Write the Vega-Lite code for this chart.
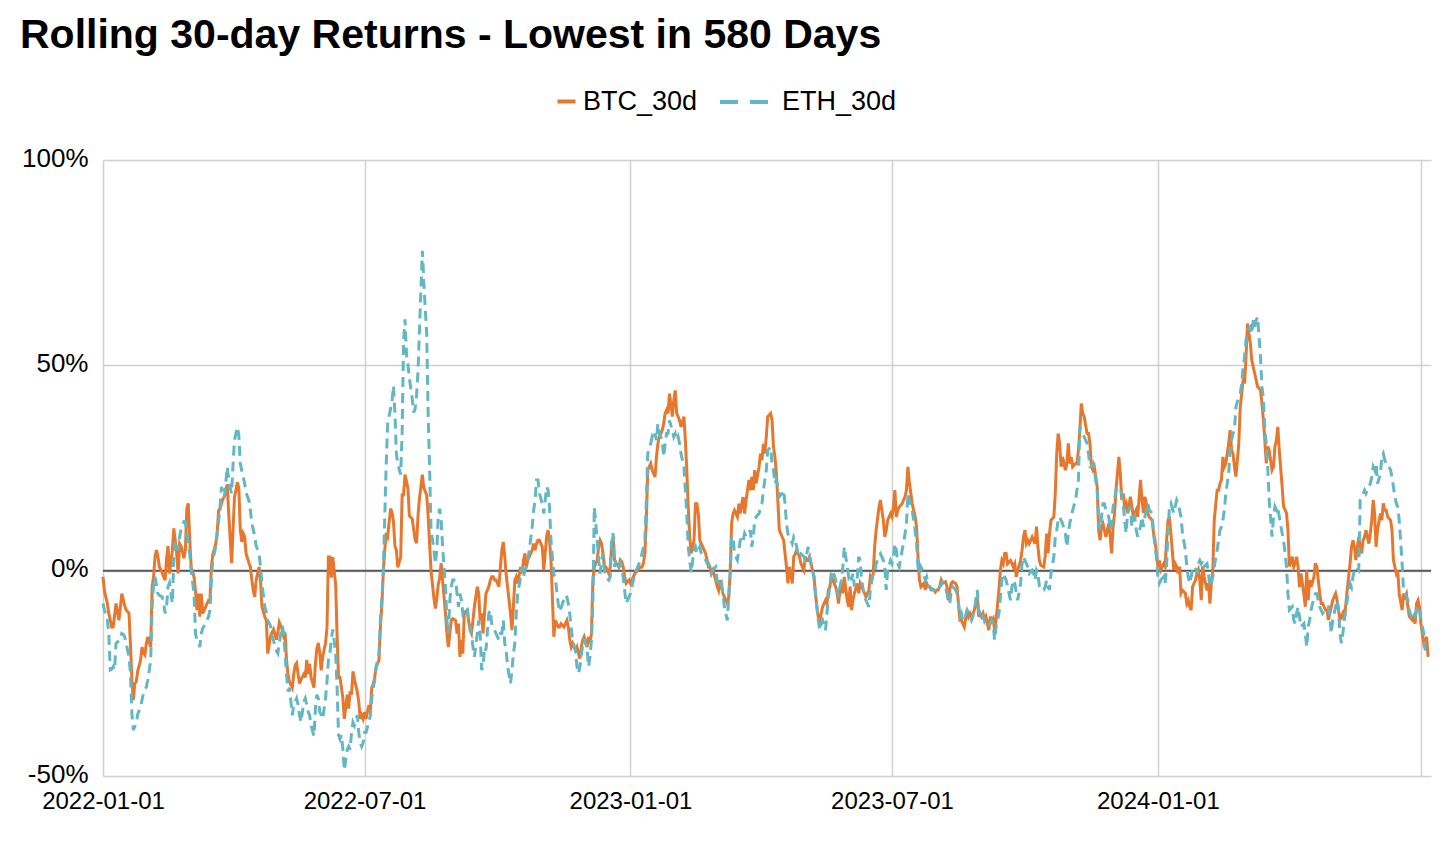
{
"$schema":"https://vega.github.io/schema/vega-lite/v6.json",
"width":1328,"height":616,
"autosize":{"type":"none"},
"padding":{"left":103,"top":160,"right":25,"bottom":65},
"background":"white",
"config":{"view":{"stroke":null},"font":"Liberation Sans"},
"title":{"text":"Rolling 30-day Returns - Lowest in 580 Days","anchor":"start","frame":"group","dx":-83,"dy":-18,"offset":0,"fontSize":41,"font":"Liberation Sans","fontWeight":"bold","color":"#000000"},
"data":{"format":{"parse":{"date":"date:'%Y-%j'"}},"values":[
{"date":"2022-001","BTC_30d":-1.5,"ETH_30d":-8},
{"date":"2022-002","BTC_30d":-5,"ETH_30d":-9.6},
{"date":"2022-004","BTC_30d":-8,"ETH_30d":-12},
{"date":"2022-005","BTC_30d":-10.4,"ETH_30d":-15.3},
{"date":"2022-006","BTC_30d":-12,"ETH_30d":-24.2},
{"date":"2022-007","BTC_30d":-13.7,"ETH_30d":-24},
{"date":"2022-008","BTC_30d":-13.7,"ETH_30d":-23.4},
{"date":"2022-009","BTC_30d":-11,"ETH_30d":-24.2},
{"date":"2022-010","BTC_30d":-8,"ETH_30d":-17.7},
{"date":"2022-012","BTC_30d":-12.1,"ETH_30d":-17},
{"date":"2022-013","BTC_30d":-9,"ETH_30d":-16.9},
{"date":"2022-014","BTC_30d":-5.6,"ETH_30d":-15.3},
{"date":"2022-015","BTC_30d":-7,"ETH_30d":-15.5},
{"date":"2022-016","BTC_30d":-8.5,"ETH_30d":-16.1},
{"date":"2022-017","BTC_30d":-9.6,"ETH_30d":-17.7},
{"date":"2022-019","BTC_30d":-10.4,"ETH_30d":-21},
{"date":"2022-020","BTC_30d":-18,"ETH_30d":-25},
{"date":"2022-021","BTC_30d":-26.7,"ETH_30d":-34.8},
{"date":"2022-022","BTC_30d":-31.5,"ETH_30d":-38.8},
{"date":"2022-023","BTC_30d":-27.5,"ETH_30d":-38},
{"date":"2022-024","BTC_30d":-27.1,"ETH_30d":-37.2},
{"date":"2022-025","BTC_30d":-24.5,"ETH_30d":-35},
{"date":"2022-027","BTC_30d":-21.8,"ETH_30d":-33.1},
{"date":"2022-028","BTC_30d":-18.6,"ETH_30d":-31.5},
{"date":"2022-029","BTC_30d":-20,"ETH_30d":-29.9},
{"date":"2022-030","BTC_30d":-20.5,"ETH_30d":-29},
{"date":"2022-031","BTC_30d":-17.7,"ETH_30d":-28.3},
{"date":"2022-032","BTC_30d":-16.1,"ETH_30d":-26.7},
{"date":"2022-034","BTC_30d":-18.6,"ETH_30d":-21.8},
{"date":"2022-035","BTC_30d":-3.9,"ETH_30d":-8.8},
{"date":"2022-036","BTC_30d":-1.5,"ETH_30d":-3.1},
{"date":"2022-037","BTC_30d":3.4,"ETH_30d":-1.5},
{"date":"2022-038","BTC_30d":5,"ETH_30d":-3.5},
{"date":"2022-039","BTC_30d":3.5,"ETH_30d":-5.6},
{"date":"2022-040","BTC_30d":0.9,"ETH_30d":-6},
{"date":"2022-042","BTC_30d":-0.5,"ETH_30d":-6.4},
{"date":"2022-043","BTC_30d":-1.5,"ETH_30d":-8},
{"date":"2022-044","BTC_30d":-2.3,"ETH_30d":-10.4},
{"date":"2022-045","BTC_30d":3,"ETH_30d":-8.8},
{"date":"2022-046","BTC_30d":6,"ETH_30d":-3.9},
{"date":"2022-047","BTC_30d":-0.7,"ETH_30d":-3},
{"date":"2022-049","BTC_30d":5,"ETH_30d":-8},
{"date":"2022-050","BTC_30d":10.3,"ETH_30d":3.4},
{"date":"2022-051","BTC_30d":7.4,"ETH_30d":7.4},
{"date":"2022-052","BTC_30d":4.2,"ETH_30d":6},
{"date":"2022-053","BTC_30d":-0.7,"ETH_30d":5},
{"date":"2022-054","BTC_30d":6.6,"ETH_30d":8.3},
{"date":"2022-055","BTC_30d":6,"ETH_30d":10},
{"date":"2022-057","BTC_30d":3,"ETH_30d":12},
{"date":"2022-058","BTC_30d":5,"ETH_30d":12},
{"date":"2022-059","BTC_30d":15,"ETH_30d":9.1},
{"date":"2022-060","BTC_30d":16.4,"ETH_30d":6.5},
{"date":"2022-061","BTC_30d":8,"ETH_30d":4.2},
{"date":"2022-062","BTC_30d":0.9,"ETH_30d":0.1},
{"date":"2022-064","BTC_30d":-1.5,"ETH_30d":-5.6},
{"date":"2022-065","BTC_30d":-5,"ETH_30d":-15.3},
{"date":"2022-066","BTC_30d":-9.6,"ETH_30d":-16.9},
{"date":"2022-067","BTC_30d":-5.6,"ETH_30d":-17.5},
{"date":"2022-068","BTC_30d":-11.2,"ETH_30d":-18.6},
{"date":"2022-069","BTC_30d":-5.6,"ETH_30d":-15.3},
{"date":"2022-070","BTC_30d":-10.4,"ETH_30d":-14},
{"date":"2022-072","BTC_30d":-8.8,"ETH_30d":-12.9},
{"date":"2022-073","BTC_30d":-8,"ETH_30d":-12},
{"date":"2022-074","BTC_30d":-7.2,"ETH_30d":-11.2},
{"date":"2022-075","BTC_30d":-7.2,"ETH_30d":-9.6},
{"date":"2022-076","BTC_30d":0.9,"ETH_30d":-2.3},
{"date":"2022-077","BTC_30d":4,"ETH_30d":2.6},
{"date":"2022-079","BTC_30d":6.5,"ETH_30d":5.8},
{"date":"2022-080","BTC_30d":9.1,"ETH_30d":9.1},
{"date":"2022-081","BTC_30d":14.7,"ETH_30d":12},
{"date":"2022-082","BTC_30d":15,"ETH_30d":15.5},
{"date":"2022-083","BTC_30d":16.5,"ETH_30d":20.4},
{"date":"2022-084","BTC_30d":17.5,"ETH_30d":19},
{"date":"2022-085","BTC_30d":18,"ETH_30d":17.9},
{"date":"2022-087","BTC_30d":21,"ETH_30d":25.3},
{"date":"2022-088","BTC_30d":13.9,"ETH_30d":22.1},
{"date":"2022-089","BTC_30d":8,"ETH_30d":20},
{"date":"2022-090","BTC_30d":1.8,"ETH_30d":18.8},
{"date":"2022-091","BTC_30d":9.9,"ETH_30d":26.1},
{"date":"2022-092","BTC_30d":17.9,"ETH_30d":31.8},
{"date":"2022-094","BTC_30d":21.5,"ETH_30d":35},
{"date":"2022-095","BTC_30d":20,"ETH_30d":33},
{"date":"2022-096","BTC_30d":10,"ETH_30d":26.1},
{"date":"2022-097","BTC_30d":7,"ETH_30d":24.5},
{"date":"2022-098","BTC_30d":9.1,"ETH_30d":23},
{"date":"2022-099","BTC_30d":8.3,"ETH_30d":21.2},
{"date":"2022-100","BTC_30d":4.2,"ETH_30d":19},
{"date":"2022-102","BTC_30d":1.8,"ETH_30d":17.1},
{"date":"2022-103","BTC_30d":0.9,"ETH_30d":14.7},
{"date":"2022-104","BTC_30d":-2.3,"ETH_30d":11.5},
{"date":"2022-105","BTC_30d":-4.8,"ETH_30d":10},
{"date":"2022-106","BTC_30d":-6.4,"ETH_30d":8.3},
{"date":"2022-107","BTC_30d":-2.3,"ETH_30d":6},
{"date":"2022-109","BTC_30d":0.9,"ETH_30d":4.2},
{"date":"2022-110","BTC_30d":-2.3,"ETH_30d":0.9},
{"date":"2022-111","BTC_30d":-8.8,"ETH_30d":-3.1},
{"date":"2022-112","BTC_30d":-10,"ETH_30d":-6},
{"date":"2022-113","BTC_30d":-11.3,"ETH_30d":-8.8},
{"date":"2022-114","BTC_30d":-12.1,"ETH_30d":-10},
{"date":"2022-115","BTC_30d":-20.2,"ETH_30d":-12.1},
{"date":"2022-117","BTC_30d":-15.9,"ETH_30d":-13.5},
{"date":"2022-118","BTC_30d":-15,"ETH_30d":-15.9},
{"date":"2022-119","BTC_30d":-14.3,"ETH_30d":-17},
{"date":"2022-120","BTC_30d":-15.5,"ETH_30d":-18.5},
{"date":"2022-121","BTC_30d":-16.8,"ETH_30d":-19.5},
{"date":"2022-122","BTC_30d":-15.1,"ETH_30d":-20.1},
{"date":"2022-123","BTC_30d":-12.6,"ETH_30d":-17.6},
{"date":"2022-125","BTC_30d":-14.3,"ETH_30d":-13.4},
{"date":"2022-126","BTC_30d":-15.9,"ETH_30d":-15.1},
{"date":"2022-127","BTC_30d":-15.1,"ETH_30d":-20.1},
{"date":"2022-128","BTC_30d":-21.8,"ETH_30d":-25.2},
{"date":"2022-129","BTC_30d":-25.2,"ETH_30d":-29.4},
{"date":"2022-130","BTC_30d":-27,"ETH_30d":-28.5},
{"date":"2022-132","BTC_30d":-28.5,"ETH_30d":-35.2},
{"date":"2022-133","BTC_30d":-25.2,"ETH_30d":-32.7},
{"date":"2022-134","BTC_30d":-23,"ETH_30d":-31.9},
{"date":"2022-135","BTC_30d":-22.5,"ETH_30d":-31.1},
{"date":"2022-136","BTC_30d":-25.2,"ETH_30d":-32.7},
{"date":"2022-137","BTC_30d":-27.5,"ETH_30d":-35.2},
{"date":"2022-138","BTC_30d":-26.5,"ETH_30d":-36.9},
{"date":"2022-140","BTC_30d":-25.2,"ETH_30d":-31.9},
{"date":"2022-141","BTC_30d":-26,"ETH_30d":-31.1},
{"date":"2022-142","BTC_30d":-21.8,"ETH_30d":-32.7},
{"date":"2022-143","BTC_30d":-25.2,"ETH_30d":-34.4},
{"date":"2022-144","BTC_30d":-22.7,"ETH_30d":-35.2},
{"date":"2022-145","BTC_30d":-26,"ETH_30d":-37.7},
{"date":"2022-147","BTC_30d":-28.5,"ETH_30d":-40.3},
{"date":"2022-148","BTC_30d":-22.7,"ETH_30d":-33.6},
{"date":"2022-149","BTC_30d":-19,"ETH_30d":-30.2},
{"date":"2022-150","BTC_30d":-17.6,"ETH_30d":-31.1},
{"date":"2022-151","BTC_30d":-20,"ETH_30d":-34.4},
{"date":"2022-152","BTC_30d":-24.3,"ETH_30d":-35.2},
{"date":"2022-153","BTC_30d":-21,"ETH_30d":-36.1},
{"date":"2022-155","BTC_30d":-17.6,"ETH_30d":-31.1},
{"date":"2022-156","BTC_30d":-14,"ETH_30d":-26.9},
{"date":"2022-157","BTC_30d":3.3,"ETH_30d":-21.8},
{"date":"2022-158","BTC_30d":3.3,"ETH_30d":-20.1},
{"date":"2022-159","BTC_30d":-1.7,"ETH_30d":-16.8},
{"date":"2022-160","BTC_30d":3.3,"ETH_30d":-14.3},
{"date":"2022-162","BTC_30d":-3.4,"ETH_30d":-20.1},
{"date":"2022-163","BTC_30d":-15.9,"ETH_30d":-28.5},
{"date":"2022-164","BTC_30d":-26,"ETH_30d":-40},
{"date":"2022-165","BTC_30d":-26,"ETH_30d":-41},
{"date":"2022-166","BTC_30d":-28.5,"ETH_30d":-40},
{"date":"2022-167","BTC_30d":-31.1,"ETH_30d":-43.6},
{"date":"2022-168","BTC_30d":-36.1,"ETH_30d":-48.6},
{"date":"2022-170","BTC_30d":-30.2,"ETH_30d":-43.6},
{"date":"2022-171","BTC_30d":-33.6,"ETH_30d":-42.8},
{"date":"2022-172","BTC_30d":-29.4,"ETH_30d":-43.6},
{"date":"2022-173","BTC_30d":-30.2,"ETH_30d":-39.4},
{"date":"2022-174","BTC_30d":-24.5,"ETH_30d":-36.9},
{"date":"2022-175","BTC_30d":-26.5,"ETH_30d":-37.7},
{"date":"2022-177","BTC_30d":-29.5,"ETH_30d":-35.2},
{"date":"2022-178","BTC_30d":-31.9,"ETH_30d":-39.4},
{"date":"2022-179","BTC_30d":-36.1,"ETH_30d":-41.9},
{"date":"2022-180","BTC_30d":-35.2,"ETH_30d":-42.8},
{"date":"2022-181","BTC_30d":-36.1,"ETH_30d":-41.9},
{"date":"2022-182","BTC_30d":-34.4,"ETH_30d":-39.4},
{"date":"2022-183","BTC_30d":-36.1,"ETH_30d":-39.4},
{"date":"2022-185","BTC_30d":-32.7,"ETH_30d":-36.9},
{"date":"2022-186","BTC_30d":-34.4,"ETH_30d":-35.2},
{"date":"2022-187","BTC_30d":-28.5,"ETH_30d":-31.1},
{"date":"2022-188","BTC_30d":-27.7,"ETH_30d":-28.5},
{"date":"2022-189","BTC_30d":-26,"ETH_30d":-26.9},
{"date":"2022-190","BTC_30d":-23.5,"ETH_30d":-23.5},
{"date":"2022-192","BTC_30d":-21.8,"ETH_30d":-20.1},
{"date":"2022-193","BTC_30d":-13.4,"ETH_30d":-11.8},
{"date":"2022-194","BTC_30d":-8.4,"ETH_30d":-6.7},
{"date":"2022-195","BTC_30d":0,"ETH_30d":0},
{"date":"2022-196","BTC_30d":5,"ETH_30d":13.4},
{"date":"2022-197","BTC_30d":9.2,"ETH_30d":26},
{"date":"2022-198","BTC_30d":8.4,"ETH_30d":36},
{"date":"2022-200","BTC_30d":15.1,"ETH_30d":39.4},
{"date":"2022-201","BTC_30d":14.2,"ETH_30d":41.1},
{"date":"2022-202","BTC_30d":12,"ETH_30d":45},
{"date":"2022-203","BTC_30d":6,"ETH_30d":38.5},
{"date":"2022-204","BTC_30d":5,"ETH_30d":28.5},
{"date":"2022-205","BTC_30d":0.8,"ETH_30d":26},
{"date":"2022-207","BTC_30d":3.3,"ETH_30d":23.4},
{"date":"2022-208","BTC_30d":18.4,"ETH_30d":33.5},
{"date":"2022-209","BTC_30d":18.4,"ETH_30d":56},
{"date":"2022-210","BTC_30d":23.4,"ETH_30d":61.2},
{"date":"2022-211","BTC_30d":21.8,"ETH_30d":52.8},
{"date":"2022-212","BTC_30d":20.1,"ETH_30d":50.3},
{"date":"2022-213","BTC_30d":13.4,"ETH_30d":46.9},
{"date":"2022-215","BTC_30d":12.6,"ETH_30d":41.9},
{"date":"2022-216","BTC_30d":10,"ETH_30d":38.5},
{"date":"2022-217","BTC_30d":7.5,"ETH_30d":39.4},
{"date":"2022-218","BTC_30d":6.7,"ETH_30d":42.7},
{"date":"2022-219","BTC_30d":13.4,"ETH_30d":48.6},
{"date":"2022-220","BTC_30d":17.6,"ETH_30d":58.7},
{"date":"2022-222","BTC_30d":23.4,"ETH_30d":77.9},
{"date":"2022-223","BTC_30d":20.1,"ETH_30d":70.4},
{"date":"2022-224","BTC_30d":19.3,"ETH_30d":63.7},
{"date":"2022-225","BTC_30d":18.4,"ETH_30d":57.8},
{"date":"2022-226","BTC_30d":13.4,"ETH_30d":38.5},
{"date":"2022-227","BTC_30d":6.7,"ETH_30d":25},
{"date":"2022-228","BTC_30d":0,"ETH_30d":10},
{"date":"2022-230","BTC_30d":-6.7,"ETH_30d":5},
{"date":"2022-231","BTC_30d":-9.2,"ETH_30d":1.7},
{"date":"2022-232","BTC_30d":-6.7,"ETH_30d":5},
{"date":"2022-233","BTC_30d":-3.4,"ETH_30d":13.4},
{"date":"2022-234","BTC_30d":-1.7,"ETH_30d":15.1},
{"date":"2022-235","BTC_30d":1.8,"ETH_30d":12.3},
{"date":"2022-236","BTC_30d":-2.3,"ETH_30d":5.8},
{"date":"2022-238","BTC_30d":-10.4,"ETH_30d":-3.9},
{"date":"2022-239","BTC_30d":-15.3,"ETH_30d":-12.1},
{"date":"2022-240","BTC_30d":-18.6,"ETH_30d":-15.3},
{"date":"2022-241","BTC_30d":-15.3,"ETH_30d":-7.2},
{"date":"2022-242","BTC_30d":-12.1,"ETH_30d":-3.9},
{"date":"2022-243","BTC_30d":-11.7,"ETH_30d":-2.3},
{"date":"2022-245","BTC_30d":-12.1,"ETH_30d":-2.3},
{"date":"2022-246","BTC_30d":-15.3,"ETH_30d":-5.6},
{"date":"2022-247","BTC_30d":-12.9,"ETH_30d":-8.8},
{"date":"2022-248","BTC_30d":-21,"ETH_30d":-5.6},
{"date":"2022-249","BTC_30d":-16.9,"ETH_30d":-7.2},
{"date":"2022-250","BTC_30d":-20.2,"ETH_30d":-10.4},
{"date":"2022-251","BTC_30d":-10.4,"ETH_30d":-9.6},
{"date":"2022-253","BTC_30d":-9.6,"ETH_30d":-8.8},
{"date":"2022-254","BTC_30d":-12.1,"ETH_30d":-12.1},
{"date":"2022-255","BTC_30d":-14.5,"ETH_30d":-13.7},
{"date":"2022-256","BTC_30d":-15.3,"ETH_30d":-15.3},
{"date":"2022-257","BTC_30d":-12.1,"ETH_30d":-18.6},
{"date":"2022-258","BTC_30d":-8.8,"ETH_30d":-21},
{"date":"2022-260","BTC_30d":-3.9,"ETH_30d":-15.3},
{"date":"2022-261","BTC_30d":-5.6,"ETH_30d":-12.1},
{"date":"2022-262","BTC_30d":-12.1,"ETH_30d":-15.3},
{"date":"2022-263","BTC_30d":-10.4,"ETH_30d":-24.2},
{"date":"2022-264","BTC_30d":-15.3,"ETH_30d":-23.4},
{"date":"2022-265","BTC_30d":-10.4,"ETH_30d":-18.6},
{"date":"2022-266","BTC_30d":-5.6,"ETH_30d":-19.4},
{"date":"2022-268","BTC_30d":-3.9,"ETH_30d":-10.4},
{"date":"2022-269","BTC_30d":-2.3,"ETH_30d":-9.6},
{"date":"2022-270","BTC_30d":-1.5,"ETH_30d":-12.9},
{"date":"2022-271","BTC_30d":-1.5,"ETH_30d":-13.7},
{"date":"2022-272","BTC_30d":-2.3,"ETH_30d":-14.5},
{"date":"2022-273","BTC_30d":-2.3,"ETH_30d":-15.3},
{"date":"2022-275","BTC_30d":-3.9,"ETH_30d":-16.9},
{"date":"2022-276","BTC_30d":0.9,"ETH_30d":-15.3},
{"date":"2022-277","BTC_30d":5,"ETH_30d":-15.3},
{"date":"2022-278","BTC_30d":7,"ETH_30d":-12.1},
{"date":"2022-279","BTC_30d":3.5,"ETH_30d":-17.7},
{"date":"2022-280","BTC_30d":-1,"ETH_30d":-19.4},
{"date":"2022-281","BTC_30d":-4,"ETH_30d":-23.4},
{"date":"2022-283","BTC_30d":-10.4,"ETH_30d":-27.5},
{"date":"2022-284","BTC_30d":-14.5,"ETH_30d":-24.2},
{"date":"2022-285","BTC_30d":-8.8,"ETH_30d":-20.2},
{"date":"2022-286","BTC_30d":-2.3,"ETH_30d":-17.7},
{"date":"2022-287","BTC_30d":-1.5,"ETH_30d":-10.4},
{"date":"2022-288","BTC_30d":-3.1,"ETH_30d":-5.6},
{"date":"2022-290","BTC_30d":0.9,"ETH_30d":-1.5},
{"date":"2022-291","BTC_30d":-0.7,"ETH_30d":0.9},
{"date":"2022-292","BTC_30d":2.6,"ETH_30d":-1.5},
{"date":"2022-293","BTC_30d":4.2,"ETH_30d":0.1},
{"date":"2022-294","BTC_30d":0.9,"ETH_30d":0.9},
{"date":"2022-295","BTC_30d":2.6,"ETH_30d":2.6},
{"date":"2022-296","BTC_30d":3.4,"ETH_30d":5},
{"date":"2022-298","BTC_30d":5,"ETH_30d":10.7},
{"date":"2022-299","BTC_30d":6.6,"ETH_30d":14.7},
{"date":"2022-300","BTC_30d":5,"ETH_30d":17.1},
{"date":"2022-301","BTC_30d":6.6,"ETH_30d":22.1},
{"date":"2022-302","BTC_30d":7.4,"ETH_30d":22.1},
{"date":"2022-303","BTC_30d":7.4,"ETH_30d":18.8},
{"date":"2022-305","BTC_30d":5.8,"ETH_30d":16.3},
{"date":"2022-306","BTC_30d":0.1,"ETH_30d":13.9},
{"date":"2022-307","BTC_30d":4.2,"ETH_30d":17.1},
{"date":"2022-308","BTC_30d":8.3,"ETH_30d":20.4},
{"date":"2022-309","BTC_30d":9.9,"ETH_30d":19.6},
{"date":"2022-310","BTC_30d":7.4,"ETH_30d":15.5},
{"date":"2022-311","BTC_30d":2.6,"ETH_30d":7.4},
{"date":"2022-313","BTC_30d":-16.1,"ETH_30d":-1},
{"date":"2022-314","BTC_30d":-12.1,"ETH_30d":-1.5},
{"date":"2022-315","BTC_30d":-12.9,"ETH_30d":-5},
{"date":"2022-316","BTC_30d":-13.7,"ETH_30d":-8},
{"date":"2022-317","BTC_30d":-13.7,"ETH_30d":-10},
{"date":"2022-318","BTC_30d":-12.9,"ETH_30d":-9},
{"date":"2022-320","BTC_30d":-13.7,"ETH_30d":-7},
{"date":"2022-321","BTC_30d":-12.9,"ETH_30d":-6},
{"date":"2022-322","BTC_30d":-12.1,"ETH_30d":-6.4},
{"date":"2022-323","BTC_30d":-13.7,"ETH_30d":-8},
{"date":"2022-324","BTC_30d":-16.9,"ETH_30d":-10.5},
{"date":"2022-325","BTC_30d":-18.6,"ETH_30d":-14},
{"date":"2022-326","BTC_30d":-17.7,"ETH_30d":-17},
{"date":"2022-328","BTC_30d":-19.4,"ETH_30d":-19.5},
{"date":"2022-329","BTC_30d":-18.6,"ETH_30d":-23.4},
{"date":"2022-330","BTC_30d":-20.2,"ETH_30d":-25},
{"date":"2022-331","BTC_30d":-21.4,"ETH_30d":-23.5},
{"date":"2022-332","BTC_30d":-18.6,"ETH_30d":-20.5},
{"date":"2022-333","BTC_30d":-16.9,"ETH_30d":-18},
{"date":"2022-334","BTC_30d":-16.1,"ETH_30d":-16.5},
{"date":"2022-336","BTC_30d":-18.6,"ETH_30d":-19},
{"date":"2022-337","BTC_30d":-16.1,"ETH_30d":-23.4},
{"date":"2022-338","BTC_30d":-17.7,"ETH_30d":-21},
{"date":"2022-339","BTC_30d":-15.3,"ETH_30d":-17},
{"date":"2022-340","BTC_30d":-2.3,"ETH_30d":-8},
{"date":"2022-341","BTC_30d":0.9,"ETH_30d":15.5},
{"date":"2022-343","BTC_30d":2.6,"ETH_30d":7.4},
{"date":"2022-344","BTC_30d":5.8,"ETH_30d":2.6},
{"date":"2022-345","BTC_30d":7.4,"ETH_30d":-0.7},
{"date":"2022-346","BTC_30d":6.6,"ETH_30d":2.6},
{"date":"2022-347","BTC_30d":4.2,"ETH_30d":4.2},
{"date":"2022-348","BTC_30d":0.9,"ETH_30d":0.1},
{"date":"2022-349","BTC_30d":0.9,"ETH_30d":-1.5},
{"date":"2022-351","BTC_30d":-0.7,"ETH_30d":-2.3},
{"date":"2022-352","BTC_30d":0.9,"ETH_30d":-1.5},
{"date":"2022-353","BTC_30d":5.8,"ETH_30d":8.3},
{"date":"2022-354","BTC_30d":8.3,"ETH_30d":9.1},
{"date":"2022-355","BTC_30d":2.6,"ETH_30d":0.9},
{"date":"2022-356","BTC_30d":1.8,"ETH_30d":2.6},
{"date":"2022-358","BTC_30d":0.9,"ETH_30d":0.9},
{"date":"2022-359","BTC_30d":2.6,"ETH_30d":1.8},
{"date":"2022-360","BTC_30d":2.2,"ETH_30d":0.1},
{"date":"2022-361","BTC_30d":0.9,"ETH_30d":-1.5},
{"date":"2022-362","BTC_30d":-1.5,"ETH_30d":-4.8},
{"date":"2022-363","BTC_30d":-3.1,"ETH_30d":-8},
{"date":"2022-365","BTC_30d":-2.3,"ETH_30d":-6.4},
{"date":"2023-001","BTC_30d":-3.1,"ETH_30d":-5.6},
{"date":"2023-002","BTC_30d":-2.3,"ETH_30d":-3.9},
{"date":"2023-003","BTC_30d":-1.5,"ETH_30d":-2.3},
{"date":"2023-004","BTC_30d":-0.7,"ETH_30d":-0.7},
{"date":"2023-005","BTC_30d":-0.3,"ETH_30d":0.1},
{"date":"2023-006","BTC_30d":0.1,"ETH_30d":0.9},
{"date":"2023-008","BTC_30d":0.9,"ETH_30d":2.6},
{"date":"2023-009","BTC_30d":0.9,"ETH_30d":4.2},
{"date":"2023-010","BTC_30d":1.8,"ETH_30d":5.8},
{"date":"2023-011","BTC_30d":4.2,"ETH_30d":7.4},
{"date":"2023-012","BTC_30d":12.3,"ETH_30d":17.1},
{"date":"2023-013","BTC_30d":24.5,"ETH_30d":28.5},
{"date":"2023-015","BTC_30d":26.1,"ETH_30d":30.9},
{"date":"2023-016","BTC_30d":24.5,"ETH_30d":32.6},
{"date":"2023-017","BTC_30d":23.7,"ETH_30d":31.8},
{"date":"2023-018","BTC_30d":22.8,"ETH_30d":33.4},
{"date":"2023-019","BTC_30d":27.7,"ETH_30d":31.8},
{"date":"2023-020","BTC_30d":30.9,"ETH_30d":35.8},
{"date":"2023-021","BTC_30d":32.6,"ETH_30d":33.4},
{"date":"2023-023","BTC_30d":34.2,"ETH_30d":31.8},
{"date":"2023-024","BTC_30d":35.8,"ETH_30d":27.7},
{"date":"2023-025","BTC_30d":38.3,"ETH_30d":30.9},
{"date":"2023-026","BTC_30d":39.1,"ETH_30d":33.4},
{"date":"2023-027","BTC_30d":38.3,"ETH_30d":33.4},
{"date":"2023-028","BTC_30d":43.1,"ETH_30d":36.6},
{"date":"2023-030","BTC_30d":37.5,"ETH_30d":34.2},
{"date":"2023-031","BTC_30d":41.5,"ETH_30d":32.6},
{"date":"2023-032","BTC_30d":43.9,"ETH_30d":33.4},
{"date":"2023-033","BTC_30d":38.3,"ETH_30d":31.8},
{"date":"2023-034","BTC_30d":37.5,"ETH_30d":32.6},
{"date":"2023-035","BTC_30d":36.6,"ETH_30d":30.9},
{"date":"2023-036","BTC_30d":35,"ETH_30d":28.5},
{"date":"2023-038","BTC_30d":37.5,"ETH_30d":25.3},
{"date":"2023-039","BTC_30d":31.8,"ETH_30d":19.6},
{"date":"2023-040","BTC_30d":24.5,"ETH_30d":13.9},
{"date":"2023-041","BTC_30d":15.5,"ETH_30d":5.8},
{"date":"2023-042","BTC_30d":8.3,"ETH_30d":2.6},
{"date":"2023-043","BTC_30d":4.2,"ETH_30d":-0.5},
{"date":"2023-045","BTC_30d":7.4,"ETH_30d":5},
{"date":"2023-046","BTC_30d":16.3,"ETH_30d":5.8},
{"date":"2023-047","BTC_30d":16.3,"ETH_30d":4.2},
{"date":"2023-048","BTC_30d":13.9,"ETH_30d":5},
{"date":"2023-049","BTC_30d":7.4,"ETH_30d":5.8},
{"date":"2023-050","BTC_30d":6.6,"ETH_30d":4.2},
{"date":"2023-051","BTC_30d":5.8,"ETH_30d":3.4},
{"date":"2023-053","BTC_30d":4.2,"ETH_30d":2.6},
{"date":"2023-054","BTC_30d":2.6,"ETH_30d":1.8},
{"date":"2023-055","BTC_30d":0.9,"ETH_30d":1.8},
{"date":"2023-056","BTC_30d":0.9,"ETH_30d":0.9},
{"date":"2023-057","BTC_30d":-0.7,"ETH_30d":-0.7},
{"date":"2023-058","BTC_30d":0.1,"ETH_30d":0.1},
{"date":"2023-060","BTC_30d":-2.3,"ETH_30d":0.9},
{"date":"2023-061","BTC_30d":-3.9,"ETH_30d":-2.3},
{"date":"2023-062","BTC_30d":-4.8,"ETH_30d":-3.1},
{"date":"2023-063","BTC_30d":-2.3,"ETH_30d":-3.9},
{"date":"2023-064","BTC_30d":-3.9,"ETH_30d":-3.1},
{"date":"2023-065","BTC_30d":-5.6,"ETH_30d":-5.6},
{"date":"2023-066","BTC_30d":-6.4,"ETH_30d":-8.8},
{"date":"2023-068","BTC_30d":-8,"ETH_30d":-12.1},
{"date":"2023-069","BTC_30d":-6.4,"ETH_30d":-6.4},
{"date":"2023-070","BTC_30d":-0.7,"ETH_30d":-0.7},
{"date":"2023-071","BTC_30d":11.5,"ETH_30d":8.3},
{"date":"2023-072","BTC_30d":13.9,"ETH_30d":8.3},
{"date":"2023-073","BTC_30d":14.7,"ETH_30d":4.2},
{"date":"2023-075","BTC_30d":13.1,"ETH_30d":2.6},
{"date":"2023-076","BTC_30d":16.3,"ETH_30d":5},
{"date":"2023-077","BTC_30d":13.9,"ETH_30d":7.4},
{"date":"2023-078","BTC_30d":16.3,"ETH_30d":8.3},
{"date":"2023-079","BTC_30d":17.9,"ETH_30d":7.4},
{"date":"2023-080","BTC_30d":13.9,"ETH_30d":9.1},
{"date":"2023-081","BTC_30d":17.1,"ETH_30d":8.3},
{"date":"2023-083","BTC_30d":22.1,"ETH_30d":9.1},
{"date":"2023-084","BTC_30d":19.6,"ETH_30d":9.9},
{"date":"2023-085","BTC_30d":22.8,"ETH_30d":5.8},
{"date":"2023-086","BTC_30d":19.6,"ETH_30d":8.3},
{"date":"2023-087","BTC_30d":24.5,"ETH_30d":12.3},
{"date":"2023-088","BTC_30d":21.2,"ETH_30d":13.1},
{"date":"2023-090","BTC_30d":25.3,"ETH_30d":13.9},
{"date":"2023-091","BTC_30d":28.5,"ETH_30d":15.5},
{"date":"2023-092","BTC_30d":26.9,"ETH_30d":16.3},
{"date":"2023-093","BTC_30d":30.9,"ETH_30d":19.6},
{"date":"2023-094","BTC_30d":28.5,"ETH_30d":22.1},
{"date":"2023-095","BTC_30d":32.6,"ETH_30d":24.5},
{"date":"2023-096","BTC_30d":37.5,"ETH_30d":29.3},
{"date":"2023-098","BTC_30d":38.3,"ETH_30d":30.1},
{"date":"2023-099","BTC_30d":36.6,"ETH_30d":26.1},
{"date":"2023-100","BTC_30d":30.1,"ETH_30d":24.5},
{"date":"2023-101","BTC_30d":27.7,"ETH_30d":21.2},
{"date":"2023-102","BTC_30d":23.7,"ETH_30d":22.1},
{"date":"2023-103","BTC_30d":17.1,"ETH_30d":20.4},
{"date":"2023-104","BTC_30d":9.9,"ETH_30d":18},
{"date":"2023-106","BTC_30d":8.2,"ETH_30d":18.8},
{"date":"2023-107","BTC_30d":7.4,"ETH_30d":19.6},
{"date":"2023-108","BTC_30d":4.1,"ETH_30d":16.3},
{"date":"2023-109","BTC_30d":0.9,"ETH_30d":11.4},
{"date":"2023-110","BTC_30d":-3.1,"ETH_30d":9},
{"date":"2023-111","BTC_30d":0.9,"ETH_30d":8.2},
{"date":"2023-113","BTC_30d":-3.1,"ETH_30d":6.6},
{"date":"2023-114","BTC_30d":3.4,"ETH_30d":8.2},
{"date":"2023-115","BTC_30d":4.1,"ETH_30d":7.4},
{"date":"2023-116","BTC_30d":5,"ETH_30d":5.8},
{"date":"2023-117","BTC_30d":4.1,"ETH_30d":4.1},
{"date":"2023-118","BTC_30d":3.4,"ETH_30d":3.4},
{"date":"2023-119","BTC_30d":1.7,"ETH_30d":4.1},
{"date":"2023-121","BTC_30d":0.1,"ETH_30d":3.4},
{"date":"2023-122","BTC_30d":3.4,"ETH_30d":2.5},
{"date":"2023-123","BTC_30d":2.5,"ETH_30d":4.1},
{"date":"2023-124","BTC_30d":2.5,"ETH_30d":5.8},
{"date":"2023-125","BTC_30d":3.4,"ETH_30d":3.4},
{"date":"2023-126","BTC_30d":1.7,"ETH_30d":1.7},
{"date":"2023-128","BTC_30d":-1.5,"ETH_30d":-1.5},
{"date":"2023-129","BTC_30d":-5.5,"ETH_30d":-5.5},
{"date":"2023-130","BTC_30d":-8.8,"ETH_30d":-8.8},
{"date":"2023-131","BTC_30d":-11.3,"ETH_30d":-12.1},
{"date":"2023-132","BTC_30d":-12.1,"ETH_30d":-14.5},
{"date":"2023-133","BTC_30d":-10.4,"ETH_30d":-12.9},
{"date":"2023-134","BTC_30d":-8.8,"ETH_30d":-12.1},
{"date":"2023-136","BTC_30d":-7.2,"ETH_30d":-14.5},
{"date":"2023-137","BTC_30d":-8,"ETH_30d":-10.4},
{"date":"2023-138","BTC_30d":-4.7,"ETH_30d":-6.4},
{"date":"2023-139","BTC_30d":-3.9,"ETH_30d":-3.9},
{"date":"2023-140","BTC_30d":-1.5,"ETH_30d":-0.7},
{"date":"2023-141","BTC_30d":-2.3,"ETH_30d":0.1},
{"date":"2023-143","BTC_30d":-3.9,"ETH_30d":-2.3},
{"date":"2023-144","BTC_30d":-5.5,"ETH_30d":-4.7},
{"date":"2023-145","BTC_30d":-8,"ETH_30d":-6.4},
{"date":"2023-146","BTC_30d":-4.7,"ETH_30d":-3.9},
{"date":"2023-147","BTC_30d":-3.9,"ETH_30d":-2.3},
{"date":"2023-148","BTC_30d":-5.5,"ETH_30d":0.9},
{"date":"2023-149","BTC_30d":-1.5,"ETH_30d":5.8},
{"date":"2023-151","BTC_30d":-7.2,"ETH_30d":0.9},
{"date":"2023-152","BTC_30d":-8.8,"ETH_30d":-1.5},
{"date":"2023-153","BTC_30d":-3.9,"ETH_30d":-0.7},
{"date":"2023-154","BTC_30d":-9.6,"ETH_30d":-2.3},
{"date":"2023-155","BTC_30d":-7.2,"ETH_30d":-0.7},
{"date":"2023-156","BTC_30d":-5.5,"ETH_30d":-3.9},
{"date":"2023-158","BTC_30d":-3.1,"ETH_30d":-1.5},
{"date":"2023-159","BTC_30d":-5.5,"ETH_30d":3.4},
{"date":"2023-160","BTC_30d":-3.1,"ETH_30d":2.5},
{"date":"2023-161","BTC_30d":-3.9,"ETH_30d":-2.3},
{"date":"2023-162","BTC_30d":-4.7,"ETH_30d":-4.7},
{"date":"2023-163","BTC_30d":-5.5,"ETH_30d":-6.4},
{"date":"2023-164","BTC_30d":-6.4,"ETH_30d":-7.2},
{"date":"2023-166","BTC_30d":-4.7,"ETH_30d":-8.8},
{"date":"2023-167","BTC_30d":-1.5,"ETH_30d":-4.7},
{"date":"2023-168","BTC_30d":-2.3,"ETH_30d":-2.3},
{"date":"2023-169","BTC_30d":-0.7,"ETH_30d":-0.7},
{"date":"2023-170","BTC_30d":5.8,"ETH_30d":-0.7},
{"date":"2023-171","BTC_30d":9.8,"ETH_30d":1.7},
{"date":"2023-173","BTC_30d":15.5,"ETH_30d":3.4},
{"date":"2023-174","BTC_30d":17.2,"ETH_30d":4.1},
{"date":"2023-175","BTC_30d":14.7,"ETH_30d":3.4},
{"date":"2023-176","BTC_30d":12.3,"ETH_30d":2.5},
{"date":"2023-177","BTC_30d":8.2,"ETH_30d":0.9},
{"date":"2023-178","BTC_30d":9.8,"ETH_30d":-4.7},
{"date":"2023-179","BTC_30d":12.3,"ETH_30d":0.1},
{"date":"2023-181","BTC_30d":13.9,"ETH_30d":2.5},
{"date":"2023-182","BTC_30d":13.1,"ETH_30d":1.7},
{"date":"2023-183","BTC_30d":15.5,"ETH_30d":3.4},
{"date":"2023-184","BTC_30d":19.6,"ETH_30d":6.6},
{"date":"2023-185","BTC_30d":13.1,"ETH_30d":5},
{"date":"2023-186","BTC_30d":14.7,"ETH_30d":1.7},
{"date":"2023-187","BTC_30d":15.5,"ETH_30d":0.9},
{"date":"2023-189","BTC_30d":16.3,"ETH_30d":5},
{"date":"2023-190","BTC_30d":17.2,"ETH_30d":6.6},
{"date":"2023-191","BTC_30d":18,"ETH_30d":9},
{"date":"2023-192","BTC_30d":19.6,"ETH_30d":11.4},
{"date":"2023-193","BTC_30d":25.3,"ETH_30d":18.8},
{"date":"2023-194","BTC_30d":21.6,"ETH_30d":17.2},
{"date":"2023-196","BTC_30d":16.3,"ETH_30d":14.7},
{"date":"2023-197","BTC_30d":14.7,"ETH_30d":12.3},
{"date":"2023-198","BTC_30d":13.1,"ETH_30d":9.8},
{"date":"2023-199","BTC_30d":10.6,"ETH_30d":6.6},
{"date":"2023-200","BTC_30d":3.4,"ETH_30d":0.9},
{"date":"2023-201","BTC_30d":-2.3,"ETH_30d":-0.7},
{"date":"2023-202","BTC_30d":-3.9,"ETH_30d":0.9},
{"date":"2023-204","BTC_30d":-3.1,"ETH_30d":-0.7},
{"date":"2023-205","BTC_30d":-4.7,"ETH_30d":-2.3},
{"date":"2023-206","BTC_30d":-3.1,"ETH_30d":-1.5},
{"date":"2023-207","BTC_30d":-3.9,"ETH_30d":-3.1},
{"date":"2023-208","BTC_30d":-3.9,"ETH_30d":-3.9},
{"date":"2023-209","BTC_30d":-4.3,"ETH_30d":-4.7},
{"date":"2023-211","BTC_30d":-4.7,"ETH_30d":-4.7},
{"date":"2023-212","BTC_30d":-5.2,"ETH_30d":-5.2},
{"date":"2023-213","BTC_30d":-4.7,"ETH_30d":-4.7},
{"date":"2023-214","BTC_30d":-4.7,"ETH_30d":-4.7},
{"date":"2023-215","BTC_30d":-3.9,"ETH_30d":-3.9},
{"date":"2023-216","BTC_30d":-2.3,"ETH_30d":-3.5},
{"date":"2023-217","BTC_30d":-3.1,"ETH_30d":-2.7},
{"date":"2023-219","BTC_30d":-2.7,"ETH_30d":-3.9},
{"date":"2023-220","BTC_30d":-3.9,"ETH_30d":-5.5},
{"date":"2023-221","BTC_30d":-7.2,"ETH_30d":-7.2},
{"date":"2023-222","BTC_30d":-4.7,"ETH_30d":-8},
{"date":"2023-223","BTC_30d":-3.1,"ETH_30d":-4.7},
{"date":"2023-224","BTC_30d":-2.7,"ETH_30d":-3.9},
{"date":"2023-226","BTC_30d":-3.1,"ETH_30d":-4.7},
{"date":"2023-227","BTC_30d":-3.9,"ETH_30d":-5.5},
{"date":"2023-228","BTC_30d":-8,"ETH_30d":-8},
{"date":"2023-229","BTC_30d":-12.1,"ETH_30d":-11.2},
{"date":"2023-230","BTC_30d":-12.1,"ETH_30d":-10.4},
{"date":"2023-231","BTC_30d":-12.9,"ETH_30d":-12.1},
{"date":"2023-232","BTC_30d":-13.7,"ETH_30d":-12.1},
{"date":"2023-234","BTC_30d":-9.6,"ETH_30d":-9.6},
{"date":"2023-235","BTC_30d":-11.2,"ETH_30d":-10.4},
{"date":"2023-236","BTC_30d":-10.4,"ETH_30d":-11.2},
{"date":"2023-237","BTC_30d":-11.2,"ETH_30d":-12.1},
{"date":"2023-238","BTC_30d":-10.4,"ETH_30d":-11.2},
{"date":"2023-239","BTC_30d":-9.6,"ETH_30d":-9.6},
{"date":"2023-241","BTC_30d":-6.4,"ETH_30d":-4.7},
{"date":"2023-242","BTC_30d":-11.2,"ETH_30d":-9.6},
{"date":"2023-243","BTC_30d":-10.4,"ETH_30d":-11.2},
{"date":"2023-244","BTC_30d":-11.2,"ETH_30d":-10.4},
{"date":"2023-245","BTC_30d":-10.4,"ETH_30d":-11.2},
{"date":"2023-246","BTC_30d":-12.1,"ETH_30d":-12.1},
{"date":"2023-247","BTC_30d":-11.2,"ETH_30d":-12.9},
{"date":"2023-249","BTC_30d":-14.5,"ETH_30d":-13.7},
{"date":"2023-250","BTC_30d":-11.2,"ETH_30d":-12.9},
{"date":"2023-251","BTC_30d":-12.1,"ETH_30d":-12.1},
{"date":"2023-252","BTC_30d":-11.6,"ETH_30d":-12.9},
{"date":"2023-253","BTC_30d":-14.5,"ETH_30d":-16.9},
{"date":"2023-254","BTC_30d":-12.1,"ETH_30d":-13.7},
{"date":"2023-256","BTC_30d":-4.7,"ETH_30d":-10.4},
{"date":"2023-257","BTC_30d":0.1,"ETH_30d":-6.4},
{"date":"2023-258","BTC_30d":2.5,"ETH_30d":-2.3},
{"date":"2023-259","BTC_30d":1.7,"ETH_30d":-0.7},
{"date":"2023-260","BTC_30d":4.2,"ETH_30d":-1.5},
{"date":"2023-261","BTC_30d":4.2,"ETH_30d":-2.3},
{"date":"2023-262","BTC_30d":1.7,"ETH_30d":-3.9},
{"date":"2023-264","BTC_30d":2.5,"ETH_30d":-7.2},
{"date":"2023-265","BTC_30d":1.7,"ETH_30d":-3.9},
{"date":"2023-266","BTC_30d":0.9,"ETH_30d":-2.3},
{"date":"2023-267","BTC_30d":1.7,"ETH_30d":-3.1},
{"date":"2023-268","BTC_30d":-1.5,"ETH_30d":-5.5},
{"date":"2023-269","BTC_30d":0.1,"ETH_30d":-7.2},
{"date":"2023-271","BTC_30d":2.5,"ETH_30d":-3.1},
{"date":"2023-272","BTC_30d":5,"ETH_30d":1.7},
{"date":"2023-273","BTC_30d":8.2,"ETH_30d":3.4},
{"date":"2023-274","BTC_30d":9.9,"ETH_30d":2.5},
{"date":"2023-275","BTC_30d":6.6,"ETH_30d":1.7},
{"date":"2023-276","BTC_30d":7.4,"ETH_30d":0.9},
{"date":"2023-277","BTC_30d":6.6,"ETH_30d":-0.7},
{"date":"2023-279","BTC_30d":8.2,"ETH_30d":0.1},
{"date":"2023-280","BTC_30d":7.4,"ETH_30d":-0.7},
{"date":"2023-281","BTC_30d":6.6,"ETH_30d":-2.3},
{"date":"2023-282","BTC_30d":10.7,"ETH_30d":0.1},
{"date":"2023-283","BTC_30d":5.8,"ETH_30d":-0.7},
{"date":"2023-284","BTC_30d":2.5,"ETH_30d":-3.9},
{"date":"2023-285","BTC_30d":1.3,"ETH_30d":-4.7},
{"date":"2023-287","BTC_30d":0.9,"ETH_30d":-4.7},
{"date":"2023-288","BTC_30d":3.4,"ETH_30d":-3.9},
{"date":"2023-289","BTC_30d":9,"ETH_30d":-2.3},
{"date":"2023-290","BTC_30d":4.2,"ETH_30d":-3.9},
{"date":"2023-291","BTC_30d":9,"ETH_30d":-4.7},
{"date":"2023-292","BTC_30d":12.3,"ETH_30d":-0.7},
{"date":"2023-294","BTC_30d":13.1,"ETH_30d":3.4},
{"date":"2023-295","BTC_30d":18.8,"ETH_30d":8.2},
{"date":"2023-296","BTC_30d":28.5,"ETH_30d":9.9},
{"date":"2023-297","BTC_30d":33.4,"ETH_30d":12.3},
{"date":"2023-298","BTC_30d":31,"ETH_30d":13.1},
{"date":"2023-299","BTC_30d":25.3,"ETH_30d":12.3},
{"date":"2023-300","BTC_30d":27.7,"ETH_30d":11.5},
{"date":"2023-302","BTC_30d":24.5,"ETH_30d":9},
{"date":"2023-303","BTC_30d":26.1,"ETH_30d":5.8},
{"date":"2023-304","BTC_30d":31,"ETH_30d":9},
{"date":"2023-305","BTC_30d":26.1,"ETH_30d":11.5},
{"date":"2023-306","BTC_30d":27.7,"ETH_30d":13.1},
{"date":"2023-307","BTC_30d":25.3,"ETH_30d":14.7},
{"date":"2023-309","BTC_30d":26.1,"ETH_30d":17.2},
{"date":"2023-310","BTC_30d":26.1,"ETH_30d":19.6},
{"date":"2023-311","BTC_30d":29.3,"ETH_30d":22.1},
{"date":"2023-312","BTC_30d":34.2,"ETH_30d":35},
{"date":"2023-313","BTC_30d":40.7,"ETH_30d":34.2},
{"date":"2023-314","BTC_30d":38.3,"ETH_30d":33.4},
{"date":"2023-315","BTC_30d":37.5,"ETH_30d":32.6},
{"date":"2023-317","BTC_30d":33.4,"ETH_30d":31},
{"date":"2023-318","BTC_30d":33.4,"ETH_30d":28.5},
{"date":"2023-319","BTC_30d":31,"ETH_30d":25.3},
{"date":"2023-320","BTC_30d":25.3,"ETH_30d":25.3},
{"date":"2023-321","BTC_30d":24.5,"ETH_30d":26.1},
{"date":"2023-322","BTC_30d":25.3,"ETH_30d":24.5},
{"date":"2023-324","BTC_30d":20.4,"ETH_30d":19.6},
{"date":"2023-325","BTC_30d":9.9,"ETH_30d":12.3},
{"date":"2023-326","BTC_30d":7.4,"ETH_30d":9.9},
{"date":"2023-327","BTC_30d":10.7,"ETH_30d":13.1},
{"date":"2023-328","BTC_30d":11.5,"ETH_30d":16.3},
{"date":"2023-329","BTC_30d":9.9,"ETH_30d":16.3},
{"date":"2023-330","BTC_30d":8.2,"ETH_30d":14.7},
{"date":"2023-332","BTC_30d":11.5,"ETH_30d":13.1},
{"date":"2023-333","BTC_30d":8.2,"ETH_30d":9.9},
{"date":"2023-334","BTC_30d":4.2,"ETH_30d":11.5},
{"date":"2023-335","BTC_30d":10.7,"ETH_30d":15.5},
{"date":"2023-336","BTC_30d":13.9,"ETH_30d":17.2},
{"date":"2023-337","BTC_30d":19.6,"ETH_30d":19.6},
{"date":"2023-339","BTC_30d":27.7,"ETH_30d":20.4},
{"date":"2023-340","BTC_30d":23.7,"ETH_30d":19.6},
{"date":"2023-341","BTC_30d":17.2,"ETH_30d":18.8},
{"date":"2023-342","BTC_30d":18.8,"ETH_30d":16.4},
{"date":"2023-343","BTC_30d":15.6,"ETH_30d":12.3},
{"date":"2023-344","BTC_30d":16.4,"ETH_30d":9.1},
{"date":"2023-345","BTC_30d":14,"ETH_30d":14},
{"date":"2023-347","BTC_30d":18,"ETH_30d":15.6},
{"date":"2023-348","BTC_30d":15.6,"ETH_30d":10.7},
{"date":"2023-349","BTC_30d":13.1,"ETH_30d":12.3},
{"date":"2023-350","BTC_30d":14,"ETH_30d":13.1},
{"date":"2023-351","BTC_30d":14.8,"ETH_30d":9.9},
{"date":"2023-352","BTC_30d":13.1,"ETH_30d":8.3},
{"date":"2023-354","BTC_30d":22.1,"ETH_30d":10.7},
{"date":"2023-355","BTC_30d":17.2,"ETH_30d":13.1},
{"date":"2023-356","BTC_30d":14,"ETH_30d":10.7},
{"date":"2023-357","BTC_30d":18,"ETH_30d":13.1},
{"date":"2023-358","BTC_30d":16.4,"ETH_30d":14.8},
{"date":"2023-359","BTC_30d":14,"ETH_30d":16.4},
{"date":"2023-360","BTC_30d":13.1,"ETH_30d":14.8},
{"date":"2023-362","BTC_30d":12.3,"ETH_30d":14},
{"date":"2023-363","BTC_30d":9.1,"ETH_30d":9.1},
{"date":"2023-364","BTC_30d":7.4,"ETH_30d":5.8},
{"date":"2023-365","BTC_30d":4.2,"ETH_30d":3.4},
{"date":"2024-001","BTC_30d":1,"ETH_30d":-1.5},
{"date":"2024-002","BTC_30d":2.5,"ETH_30d":-3.1},
{"date":"2024-003","BTC_30d":0.2,"ETH_30d":-2.3},
{"date":"2024-005","BTC_30d":1.7,"ETH_30d":-1.5},
{"date":"2024-006","BTC_30d":1,"ETH_30d":-3.1},
{"date":"2024-007","BTC_30d":7.4,"ETH_30d":1},
{"date":"2024-008","BTC_30d":12.3,"ETH_30d":9.1},
{"date":"2024-009","BTC_30d":13.1,"ETH_30d":15.6},
{"date":"2024-010","BTC_30d":9.1,"ETH_30d":16.4},
{"date":"2024-012","BTC_30d":0.2,"ETH_30d":14},
{"date":"2024-013","BTC_30d":1.7,"ETH_30d":15.6},
{"date":"2024-014","BTC_30d":1,"ETH_30d":17.2},
{"date":"2024-015","BTC_30d":-0.7,"ETH_30d":16.4},
{"date":"2024-016","BTC_30d":1,"ETH_30d":14.8},
{"date":"2024-017","BTC_30d":-5.5,"ETH_30d":13.1},
{"date":"2024-018","BTC_30d":-4.8,"ETH_30d":9.1},
{"date":"2024-020","BTC_30d":-5.5,"ETH_30d":5},
{"date":"2024-021","BTC_30d":-8,"ETH_30d":1},
{"date":"2024-022","BTC_30d":-7.2,"ETH_30d":-1.5},
{"date":"2024-023","BTC_30d":-8.8,"ETH_30d":-3.1},
{"date":"2024-024","BTC_30d":-9.6,"ETH_30d":-1.5},
{"date":"2024-025","BTC_30d":-3.9,"ETH_30d":0.2},
{"date":"2024-027","BTC_30d":-2.3,"ETH_30d":1},
{"date":"2024-028","BTC_30d":-0.7,"ETH_30d":-0.7},
{"date":"2024-029","BTC_30d":0.2,"ETH_30d":1.7},
{"date":"2024-030","BTC_30d":-2.3,"ETH_30d":2.5},
{"date":"2024-031","BTC_30d":-7.2,"ETH_30d":1.7},
{"date":"2024-032","BTC_30d":1,"ETH_30d":2.5},
{"date":"2024-033","BTC_30d":-1.5,"ETH_30d":1},
{"date":"2024-035","BTC_30d":-4.8,"ETH_30d":1.7},
{"date":"2024-036","BTC_30d":-3.1,"ETH_30d":-0.7},
{"date":"2024-037","BTC_30d":-8,"ETH_30d":-3.9},
{"date":"2024-038","BTC_30d":-3.1,"ETH_30d":-3.1},
{"date":"2024-039","BTC_30d":0.2,"ETH_30d":-1.5},
{"date":"2024-040","BTC_30d":12.3,"ETH_30d":1},
{"date":"2024-042","BTC_30d":19.6,"ETH_30d":5},
{"date":"2024-043","BTC_30d":19.6,"ETH_30d":7.4},
{"date":"2024-044","BTC_30d":21.2,"ETH_30d":9.9},
{"date":"2024-045","BTC_30d":22.1,"ETH_30d":10.7},
{"date":"2024-046","BTC_30d":27.7,"ETH_30d":12.3},
{"date":"2024-047","BTC_30d":25.3,"ETH_30d":14.8},
{"date":"2024-048","BTC_30d":26.1,"ETH_30d":18.8},
{"date":"2024-050","BTC_30d":31,"ETH_30d":23.7},
{"date":"2024-051","BTC_30d":34.2,"ETH_30d":29.4},
{"date":"2024-052","BTC_30d":29.4,"ETH_30d":31.8},
{"date":"2024-053","BTC_30d":28.5,"ETH_30d":33.4},
{"date":"2024-054","BTC_30d":25.3,"ETH_30d":34.2},
{"date":"2024-055","BTC_30d":22.9,"ETH_30d":39.9},
{"date":"2024-057","BTC_30d":31,"ETH_30d":42.3},
{"date":"2024-058","BTC_30d":39.9,"ETH_30d":43.1},
{"date":"2024-059","BTC_30d":43.1,"ETH_30d":45.6},
{"date":"2024-060","BTC_30d":46.4,"ETH_30d":49.6},
{"date":"2024-061","BTC_30d":45.6,"ETH_30d":52.1},
{"date":"2024-062","BTC_30d":52.1,"ETH_30d":56.1},
{"date":"2024-063","BTC_30d":60.2,"ETH_30d":58.5},
{"date":"2024-065","BTC_30d":55.3,"ETH_30d":59.4},
{"date":"2024-066","BTC_30d":51.2,"ETH_30d":57.7},
{"date":"2024-067","BTC_30d":49.6,"ETH_30d":61},
{"date":"2024-068","BTC_30d":48,"ETH_30d":59.4},
{"date":"2024-069","BTC_30d":46.4,"ETH_30d":61},
{"date":"2024-070","BTC_30d":44.8,"ETH_30d":61.8},
{"date":"2024-072","BTC_30d":44,"ETH_30d":52.1},
{"date":"2024-073","BTC_30d":40.7,"ETH_30d":44.8},
{"date":"2024-074","BTC_30d":36.7,"ETH_30d":42},
{"date":"2024-075","BTC_30d":31.8,"ETH_30d":34.2},
{"date":"2024-076","BTC_30d":26.1,"ETH_30d":31},
{"date":"2024-077","BTC_30d":30.2,"ETH_30d":25.3},
{"date":"2024-078","BTC_30d":29.4,"ETH_30d":17.2},
{"date":"2024-080","BTC_30d":24.5,"ETH_30d":8.3},
{"date":"2024-081","BTC_30d":25.3,"ETH_30d":13.1},
{"date":"2024-082","BTC_30d":30.2,"ETH_30d":15.6},
{"date":"2024-083","BTC_30d":31.8,"ETH_30d":14.8},
{"date":"2024-084","BTC_30d":35,"ETH_30d":15.6},
{"date":"2024-085","BTC_30d":29.4,"ETH_30d":13.1},
{"date":"2024-087","BTC_30d":20.4,"ETH_30d":9.1},
{"date":"2024-088","BTC_30d":15.6,"ETH_30d":7.4},
{"date":"2024-089","BTC_30d":14.8,"ETH_30d":4.2},
{"date":"2024-090","BTC_30d":14,"ETH_30d":1},
{"date":"2024-091","BTC_30d":9.9,"ETH_30d":-5.6},
{"date":"2024-092","BTC_30d":1,"ETH_30d":-9.6},
{"date":"2024-094","BTC_30d":3.4,"ETH_30d":-8.8},
{"date":"2024-095","BTC_30d":0.9,"ETH_30d":-12},
{"date":"2024-096","BTC_30d":1.8,"ETH_30d":-12.9},
{"date":"2024-097","BTC_30d":3.4,"ETH_30d":-10.4},
{"date":"2024-098","BTC_30d":0.9,"ETH_30d":-8.8},
{"date":"2024-099","BTC_30d":-4,"ETH_30d":-11.2},
{"date":"2024-100","BTC_30d":-0.7,"ETH_30d":-13.7},
{"date":"2024-102","BTC_30d":-5.6,"ETH_30d":-12.9},
{"date":"2024-103","BTC_30d":-8.8,"ETH_30d":-15.3},
{"date":"2024-104","BTC_30d":0.1,"ETH_30d":-18.6},
{"date":"2024-105","BTC_30d":-7.2,"ETH_30d":-13.7},
{"date":"2024-106","BTC_30d":-2.3,"ETH_30d":-12},
{"date":"2024-107","BTC_30d":-4,"ETH_30d":-9.6},
{"date":"2024-109","BTC_30d":-1.5,"ETH_30d":-6.4},
{"date":"2024-110","BTC_30d":1.8,"ETH_30d":-5.6},
{"date":"2024-111","BTC_30d":0.9,"ETH_30d":-5.6},
{"date":"2024-112","BTC_30d":-2.3,"ETH_30d":-7.2},
{"date":"2024-113","BTC_30d":-5.6,"ETH_30d":-8.8},
{"date":"2024-114","BTC_30d":-8,"ETH_30d":-9.6},
{"date":"2024-115","BTC_30d":-8,"ETH_30d":-10.4},
{"date":"2024-117","BTC_30d":-9.6,"ETH_30d":-9.6},
{"date":"2024-118","BTC_30d":-9.6,"ETH_30d":-8.8},
{"date":"2024-119","BTC_30d":-12,"ETH_30d":-8.8},
{"date":"2024-120","BTC_30d":-10.4,"ETH_30d":-11.2},
{"date":"2024-121","BTC_30d":-8.8,"ETH_30d":-15.3},
{"date":"2024-122","BTC_30d":-7.2,"ETH_30d":-12},
{"date":"2024-124","BTC_30d":-5.6,"ETH_30d":-8.8},
{"date":"2024-125","BTC_30d":-7.2,"ETH_30d":-7.2},
{"date":"2024-126","BTC_30d":-9.6,"ETH_30d":-9.6},
{"date":"2024-127","BTC_30d":-12,"ETH_30d":-15.3},
{"date":"2024-128","BTC_30d":-11.2,"ETH_30d":-17.7},
{"date":"2024-129","BTC_30d":-10.4,"ETH_30d":-15.3},
{"date":"2024-130","BTC_30d":-12,"ETH_30d":-12},
{"date":"2024-132","BTC_30d":-4.8,"ETH_30d":-7.2},
{"date":"2024-133","BTC_30d":-1.5,"ETH_30d":-4.8},
{"date":"2024-134","BTC_30d":1.8,"ETH_30d":-3.1},
{"date":"2024-135","BTC_30d":5.8,"ETH_30d":-4},
{"date":"2024-136","BTC_30d":7.4,"ETH_30d":-1.5},
{"date":"2024-137","BTC_30d":5.8,"ETH_30d":0.1},
{"date":"2024-138","BTC_30d":2.6,"ETH_30d":0.9},
{"date":"2024-140","BTC_30d":8.2,"ETH_30d":0.1},
{"date":"2024-141","BTC_30d":5.8,"ETH_30d":17.2},
{"date":"2024-142","BTC_30d":4.2,"ETH_30d":18},
{"date":"2024-143","BTC_30d":7.4,"ETH_30d":18.8},
{"date":"2024-144","BTC_30d":8.2,"ETH_30d":19.6},
{"date":"2024-145","BTC_30d":9.9,"ETH_30d":18.8},
{"date":"2024-147","BTC_30d":6.6,"ETH_30d":20.4},
{"date":"2024-148","BTC_30d":9,"ETH_30d":21.2},
{"date":"2024-149","BTC_30d":12.3,"ETH_30d":22.8},
{"date":"2024-150","BTC_30d":17.2,"ETH_30d":25.3},
{"date":"2024-151","BTC_30d":13.9,"ETH_30d":24.5},
{"date":"2024-152","BTC_30d":5.8,"ETH_30d":26.1},
{"date":"2024-153","BTC_30d":9.9,"ETH_30d":21.2},
{"date":"2024-155","BTC_30d":13.9,"ETH_30d":23.6},
{"date":"2024-156","BTC_30d":12.3,"ETH_30d":27.7},
{"date":"2024-157","BTC_30d":16.4,"ETH_30d":28.5},
{"date":"2024-158","BTC_30d":14.7,"ETH_30d":26.9},
{"date":"2024-159","BTC_30d":14.7,"ETH_30d":26.1},
{"date":"2024-160","BTC_30d":13.1,"ETH_30d":26.1},
{"date":"2024-162","BTC_30d":12.3,"ETH_30d":24.5},
{"date":"2024-163","BTC_30d":9.9,"ETH_30d":22.8},
{"date":"2024-164","BTC_30d":2.6,"ETH_30d":20.4},
{"date":"2024-165","BTC_30d":0.9,"ETH_30d":18},
{"date":"2024-166","BTC_30d":-0.7,"ETH_30d":16.4},
{"date":"2024-167","BTC_30d":0.1,"ETH_30d":15.5},
{"date":"2024-168","BTC_30d":-5.6,"ETH_30d":12.3},
{"date":"2024-170","BTC_30d":-9.6,"ETH_30d":1.8},
{"date":"2024-171","BTC_30d":-5.6,"ETH_30d":-4.8},
{"date":"2024-172","BTC_30d":-6.4,"ETH_30d":-5.6},
{"date":"2024-173","BTC_30d":-5.6,"ETH_30d":-6.4},
{"date":"2024-174","BTC_30d":-8.8,"ETH_30d":-7.2},
{"date":"2024-175","BTC_30d":-11.2,"ETH_30d":-9.6},
{"date":"2024-177","BTC_30d":-12,"ETH_30d":-12},
{"date":"2024-178","BTC_30d":-11.2,"ETH_30d":-11.2},
{"date":"2024-179","BTC_30d":-12.9,"ETH_30d":-11.2},
{"date":"2024-180","BTC_30d":-8,"ETH_30d":-9.6},
{"date":"2024-181","BTC_30d":-7.2,"ETH_30d":-8.8},
{"date":"2024-182","BTC_30d":-8.8,"ETH_30d":-8.8},
{"date":"2024-183","BTC_30d":-12.9,"ETH_30d":-12},
{"date":"2024-185","BTC_30d":-17.7,"ETH_30d":-15.3},
{"date":"2024-186","BTC_30d":-16.9,"ETH_30d":-19.4},
{"date":"2024-187","BTC_30d":-16.1,"ETH_30d":-18.6},
{"date":"2024-188","BTC_30d":-21,"ETH_30d":-17.7}
]},
"resolve":{"scale":{"color":"independent"},"legend":{"color":"independent"}},
"layer":[
{"data":{"values":[{"y":0}]},
 "mark":{"type":"rule","color":"#595959","strokeWidth":2},
 "encoding":{"y":{"field":"y","type":"quantitative","scale":{"domain":[-50,100],"nice":false,"zero":false}}}},
{"transform":[{"fold":["BTC_30d"],"as":["series","ret"]}],
 "mark":{"type":"line","strokeWidth":3},
 "encoding":{
  "x":{"field":"date","type":"temporal","title":null,
   "scale":{"domain":[{"year":2022,"month":1,"date":1},{"year":2024,"month":7,"date":8}]},
   "axis":{"values":[{"year":2022,"month":1,"date":1},{"year":2022,"month":7,"date":1},{"year":2023,"month":1,"date":1},{"year":2023,"month":7,"date":1},{"year":2024,"month":1,"date":1},{"year":2024,"month":7,"date":1}],
    "format":"%Y-%m-%d","labelExpr":"datum.value > datetime(2024,5,15) ? '' : datum.label",
    "labelFontSize":24,"labelFont":"Liberation Sans","labelColor":"#000000","labelPadding":13,
    "labelFlush":false,"labelOverlap":false,"labelBound":false,
    "ticks":false,"domain":false,"grid":true,"gridColor":"#d0d0d0","gridWidth":1.5}},
  "y":{"field":"ret","type":"quantitative","title":null,
   "scale":{"domain":[-50,100],"nice":false,"zero":false},
   "axis":{"values":[-50,0,50,100],"labelExpr":"datum.value + '%'","labelFontSize":26,"labelFont":"Liberation Sans","labelColor":"#000000","labelPadding":15,"labelOffset":-2,
    "ticks":false,"domain":false,"grid":true,"gridColor":"#d0d0d0","gridWidth":1.5}},
  "color":{"field":"series","type":"nominal",
   "scale":{"domain":["BTC_30d"],"range":["#E8772E"]},
   "legend":{"orient":"none","legendX":450,"legendY":-72,"direction":"horizontal","title":null,
    "symbolType":"stroke","symbolSize":324,"symbolStrokeWidth":4,
    "labelFontSize":27,"labelFont":"Liberation Sans","labelColor":"#000000","labelOffset":3,"padding":0}}
 }},
{"transform":[{"fold":["ETH_30d"],"as":["series","ret"]}],
 "mark":{"type":"line","strokeWidth":3,"strokeDash":[10,6]},
 "encoding":{
  "x":{"field":"date","type":"temporal"},
  "y":{"field":"ret","type":"quantitative"},
  "color":{"field":"series","type":"nominal",
   "scale":{"domain":["ETH_30d"],"range":["#62B7C4"]},
   "legend":{"orient":"none","legendX":615,"legendY":-85,"direction":"horizontal","title":null,
    "symbolType":"stroke","symbolSize":2500,"symbolStrokeWidth":4,"symbolDash":[18,12],
    "labelFontSize":27,"labelFont":"Liberation Sans","labelColor":"#000000","labelOffset":10,"padding":0}}
 }}
]}
